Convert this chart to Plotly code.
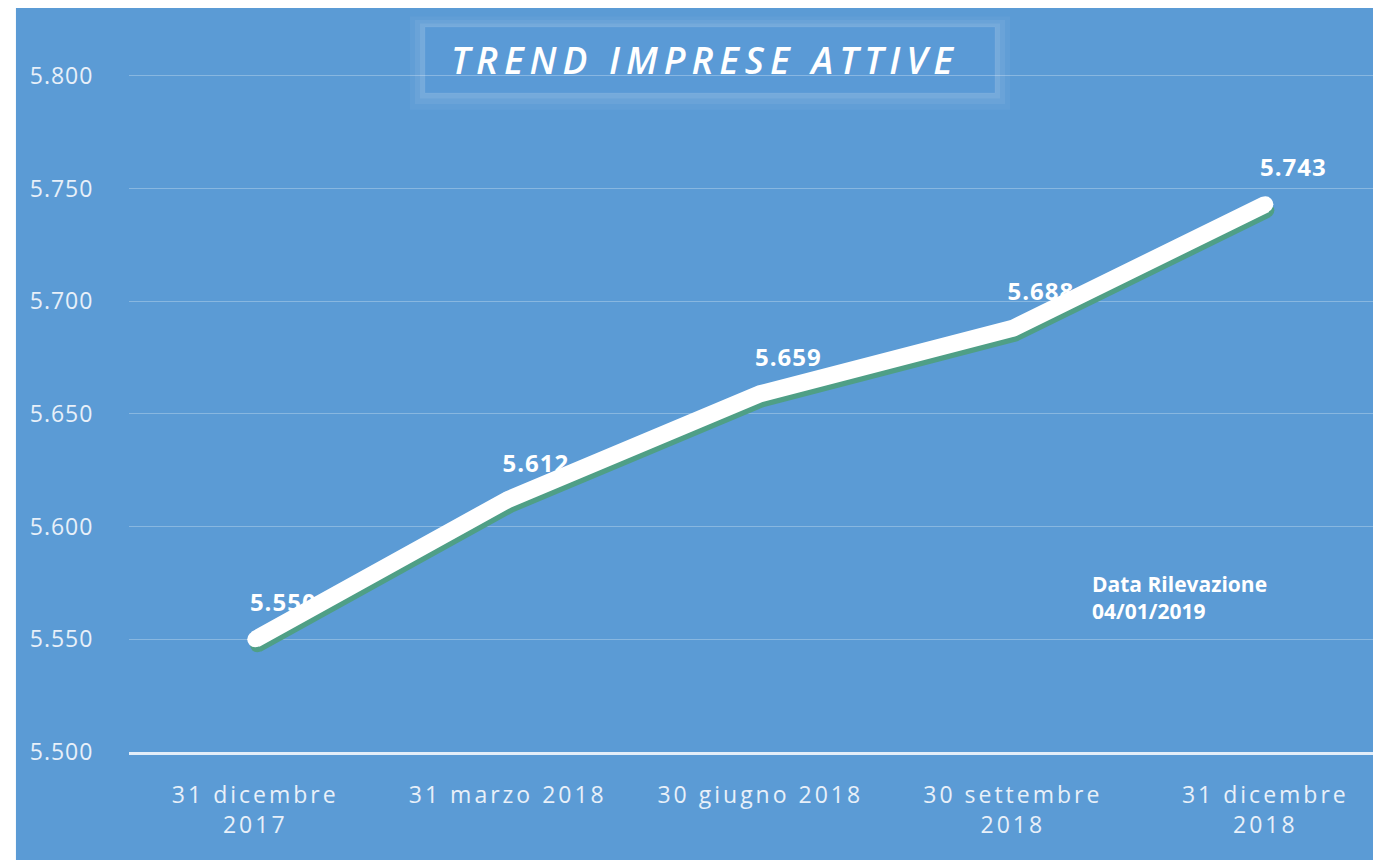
import plotly.graph_objects as go

# dati: imprese attive per trimestre
periodi = [["31 dicembre", "2017"], ["31 marzo 2018"], ["30 giugno 2018"],
           ["30 settembre", "2018"], ["31 dicembre", "2018"]]
imprese = [5550, 5612, 5659, 5688, 5743]
y_ticks = [5500, 5550, 5600, 5650, 5700, 5750, 5800]

BLU = "#5b9bd5"
FONT = "Open Sans"


def spaced(s, px):
    # spaziatura tra le lettere come nel grafico Excel
    return f'<span style="letter-spacing:{px}px">{s}</span>'


x_pos = list(range(len(periodi)))
x_labels = ["<br>".join(spaced(r, 3) for r in righe) for righe in periodi]
y_labels = [spaced(f"{v:,}".replace(",", "."), 1) for v in y_ticks]
val_labels = [spaced(f"{v:,}".replace(",", "."), 1) for v in imprese]

# scale (px -> unita') per gli spostamenti di ombra ed etichette
px_x = 1 / 252.5
px_y = 50 / 112.7
x_rng = [-0.5, 4.458]
y_rng = [5500, 5824.8]


def shifted(rng, d):
    return [rng[0] + d, rng[1] + d]


fig = go.Figure()

# asse principale (solo griglia e tick)
fig.add_trace(go.Scatter(x=x_pos, y=imprese, mode="lines", line=dict(width=0),
                         hoverinfo="skip", showlegend=False))

# etichette dati (sotto la linea, come nell'originale)
fig.add_trace(go.Scatter(x=x_pos, y=imprese, mode="text", xaxis="x2", yaxis="y2",
                         text=val_labels, textposition="middle center",
                         textfont=dict(family=FONT, size=24, color="white", weight="bold"),
                         hoverinfo="skip", showlegend=False))

# ombra verde della linea
fig.add_trace(go.Scatter(x=x_pos, y=imprese, mode="lines+markers", xaxis="x3", yaxis="y3",
                         line=dict(color="#4f9f86", width=15),
                         marker=dict(color="#4f9f86", size=14),
                         hoverinfo="skip", showlegend=False))

# linea bianca
fig.add_trace(go.Scatter(x=x_pos, y=imprese, mode="lines+markers", xaxis="x4", yaxis="y4",
                         line=dict(color="white", width=17),
                         marker=dict(color="white", size=16),
                         showlegend=False))

axis_hidden = dict(visible=False, showgrid=False, zeroline=False)

# la pagina html ha un margine di 8px: dimensioni ridotte di conseguenza
fig.update_layout(
    width=1373, height=852,
    margin=dict(l=121, r=0, t=12, b=108),
    paper_bgcolor=BLU,
    plot_bgcolor="rgba(0,0,0,0)",
    separators=",.",
    xaxis=dict(range=x_rng, tickvals=x_pos, ticktext=x_labels, showgrid=False,
               zeroline=False, showline=True, linecolor="#e3eef9", linewidth=3,
               ticks="outside", ticklen=20, tickcolor="rgba(0,0,0,0)",
               tickfont=dict(family=FONT, size=23, color="#e8f0f9")),
    yaxis=dict(range=y_rng, tickvals=y_ticks, ticktext=y_labels, showgrid=True,
               gridcolor="rgba(255,255,255,0.28)", gridwidth=1, zeroline=False,
               ticks="outside", ticklen=30, tickcolor="rgba(0,0,0,0)",
               tickfont=dict(family=FONT, size=23, color="#e8f0f9")),
    xaxis2=dict(axis_hidden, overlaying="x", anchor="y2", range=shifted(x_rng, -28 * px_x)),
    yaxis2=dict(axis_hidden, overlaying="y", anchor="x2", range=shifted(y_rng, -34 * px_y)),
    xaxis3=dict(axis_hidden, overlaying="x", anchor="y3", range=shifted(x_rng, -2 * px_x)),
    yaxis3=dict(axis_hidden, overlaying="y", anchor="x3", range=shifted(y_rng, 6 * px_y)),
    xaxis4=dict(axis_hidden, overlaying="x", anchor="y4", range=x_rng),
    yaxis4=dict(axis_hidden, overlaying="y", anchor="x4", range=y_rng),
)

# bordo bianco a sinistra
fig.add_shape(type="rect", xref="paper", yref="paper", x0=-0.2, x1=-0.0903,
              y0=-0.2, y1=1.1, fillcolor="white", line=dict(width=0), layer="above")

# riquadro del titolo con alone
for pad, alpha in [(0.012, 0.04), (0.008, 0.06), (0.004, 0.08)]:
    fig.add_shape(type="rect", xref="paper", yref="paper",
                  x0=0.2364 - pad, x1=0.6917 + pad, y0=0.9003 - pad * 1.9, y1=0.9904 + pad * 1.2,
                  fillcolor=f"rgba(255,255,255,{alpha})", line=dict(width=0), layer="below")
fig.add_shape(type="rect", xref="paper", yref="paper", x0=0.2364, x1=0.6917,
              y0=0.9003, y1=0.9904, fillcolor="#5a9ad6",
              line=dict(color="rgba(255,255,255,0.06)", width=1), layer="below")

fig.add_annotation(text=spaced("TREND IMPRESE ATTIVE", 6), xref="paper", yref="paper",
                   x=0.460, y=0.9454, xanchor="center", yanchor="middle", showarrow=False,
                   font=dict(family=FONT, size=37, color="white",
                             style="italic", weight=600))

fig.add_annotation(text="Data Rilevazione<br>04/01/2019", xref="paper", yref="paper",
                   x=0.7676, y=0.2104, xanchor="left", yanchor="middle", align="left",
                   showarrow=False,
                   font=dict(family=FONT, size=21, color="white", weight="bold"))

fig.write_html("out.html")
